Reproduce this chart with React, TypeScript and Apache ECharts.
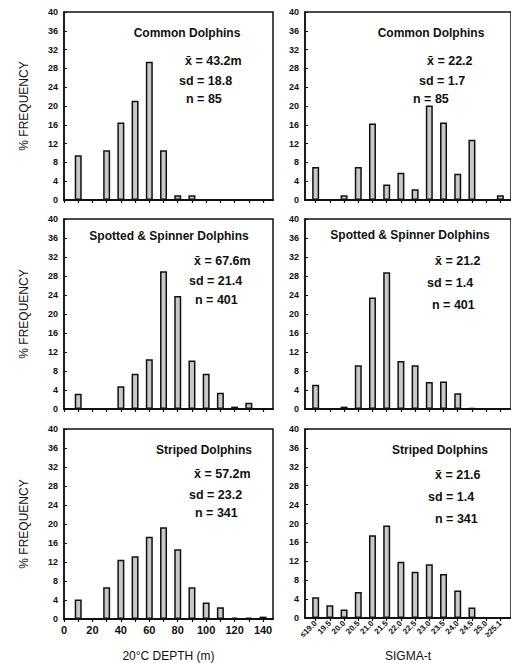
import React, { useEffect, useRef } from "react";
import * as echarts from "echarts";

// ---- data ----
const depthBins = [10, 20, 30, 40, 50, 60, 70, 80, 90, 100, 110, 120, 130, 140];
const depthTicks = [0, 10, 20, 30, 40, 50, 60, 70, 80, 90, 100, 110, 120, 130, 140];
const depthLabels = [0, 20, 40, 60, 80, 100, 120, 140];
const sigmaLabels = ["≤19.0", "19.5", "20.0", "20.5", "21.0", "21.5", "22.0", "22.5", "23.0", "23.5", "24.0", "24.5", "25.0", "≥25.1"];

const commonDepth = [9.5, 0, 10.6, 16.5, 21.1, 29.4, 10.6, 1.0, 1.0, 0, 0, 0, 0, 0];
const spottedDepth = [3.2, 0, 0, 4.8, 7.4, 10.5, 29.0, 23.8, 10.2, 7.4, 3.4, 0.5, 1.3, 0];
const stripedDepth = [4.1, 0, 6.7, 12.5, 13.2, 17.3, 19.3, 14.7, 6.7, 3.5, 2.5, 0.3, 0.3, 0.5];

const commonSigma = [7.0, 0, 1.0, 7.0, 16.3, 3.3, 5.8, 2.3, 20.1, 16.5, 5.6, 12.8, 0, 1.0];
const spottedSigma = [5.1, 0, 0.5, 9.2, 23.5, 28.8, 10.1, 9.2, 5.7, 5.8, 3.3, 0.2, 0, 0];
const stripedSigma = [4.4, 2.7, 1.8, 5.5, 17.5, 19.6, 11.9, 9.8, 11.4, 9.3, 5.8, 2.2, 0, 0];

const freqTicks = [0, 4, 8, 12, 16, 20, 24, 28, 32, 36, 40];

const speciesTitles = ["Common Dolphins", "Spotted & Spinner Dolphins", "Striped Dolphins"];
const depthStats = [
  ["x̄ = 43.2m", "sd = 18.8", "n = 85"],
  ["x̄ = 67.6m", "sd = 21.4", "n = 401"],
  ["x̄ = 57.2m", "sd = 23.2", "n = 341"],
];
const sigmaStats = [
  ["x̄ = 22.2", "sd = 1.7", "n = 85"],
  ["x̄ = 21.2", "sd = 1.4", "n = 401"],
  ["x̄ = 21.6", "sd = 1.4", "n = 341"],
];

const depthSeries = [commonDepth, spottedDepth, stripedDepth];
const sigmaSeries = [commonSigma, spottedSigma, stripedSigma];

const yTitle = "% FREQUENCY";
const depthTitle = "20°C DEPTH (m)";
const sigmaTitle = "SIGMA-t";

// ---- layout ----
const FONT = "'Liberation Sans', Arial, Helvetica, sans-serif";
const rowTop = [12, 219, 429];
const rowH = [188, 190, 190];
const leftX = 64;
const leftW = 209;
const rightX = 305;
const rightW = 208;

const leftText = [
  { tx: 187, ty: 33, sx: [185, 179, 186], sy: [61, 81, 99] },
  { tx: 169, ty: 236, sx: [194, 189, 195], sy: [261, 281, 300] },
  { tx: 204, ty: 450, sx: [194, 189, 195], sy: [474, 495, 513] },
];
const rightText = [
  { tx: 431, ty: 33, sx: [427, 419, 413], sy: [61, 81, 99] },
  { tx: 410, ty: 235, sx: [435, 427, 432], sy: [261, 283, 305] },
  { tx: 440, ty: 450, sx: [435, 428, 435], sy: [475, 497, 519] },
];

export default function App() {
  const ref = useRef<HTMLDivElement>(null);
  useEffect(() => {
    if (!ref.current) return;
    const chart = echarts.init(ref.current, undefined, { renderer: "svg" });

    const grid: any[] = [];
    const xAxis: any[] = [];
    const yAxis: any[] = [];
    const series: any[] = [];
    const graphic: any[] = [];

    const gridBase = {
      show: true,
      borderColor: "#111",
      borderWidth: 1.5,
      backgroundColor: "transparent",
      containLabel: false,
    };

    for (let r = 0; r < 3; r++) {
      const bottom = r === 2;
      grid.push({ ...gridBase, left: leftX, top: rowTop[r], width: leftW, height: rowH[r] });
      grid.push({ ...gridBase, left: rightX, top: rowTop[r], width: rightW, height: rowH[r] });

      const gl = r * 2;
      const gr = r * 2 + 1;

      xAxis.push({
        type: "value",
        gridIndex: gl,
        min: 0,
        max: 147,
        splitLine: { show: false },
        axisLine: { show: true, onZero: false, lineStyle: { color: "#111", width: 2 } },
        axisTick: { show: true, inside: false, length: 3, customValues: depthTicks, lineStyle: { color: "#111", width: 1.2 } },
        axisLabel: {
          show: bottom,
          customValues: depthLabels,
          color: "#111",
          fontFamily: FONT,
          fontWeight: "bold",
          fontSize: 11,
          margin: 5,
        },
        name: bottom ? depthTitle : "",
        nameLocation: "middle",
        nameGap: 31,
        nameTextStyle: { color: "#111", fontFamily: FONT, fontSize: 12 },
      });
      xAxis.push({
        type: "value",
        gridIndex: gr,
        min: -0.75,
        max: 13.75,
        splitLine: { show: false },
        axisLine: { show: true, onZero: false, lineStyle: { color: "#111", width: 2 } },
        axisTick: { show: true, inside: false, length: 3, customValues: sigmaLabels.map((_, i) => i), lineStyle: { color: "#111", width: 1.2 } },
        axisLabel: {
          show: bottom,
          customValues: sigmaLabels.map((_, i) => i),
          formatter: (v: number) => sigmaLabels[Math.round(v)] ?? "",
          rotate: 45,
          color: "#111",
          fontFamily: FONT,
          fontWeight: "bold",
          fontSize: 8,
          margin: 4,
        },
        name: bottom ? sigmaTitle : "",
        nameLocation: "middle",
        nameGap: 32,
        nameTextStyle: { color: "#111", fontFamily: FONT, fontSize: 12 },
      });

      const yBase = {
        type: "value",
        min: 0,
        max: 40,
        interval: 4,
        splitLine: { show: false },
        axisLine: { show: true, onZero: false, lineStyle: { color: "#111", width: 1.5 } },
        axisTick: { show: true, inside: true, length: 3, lineStyle: { color: "#111", width: 1 } },
        axisLabel: {
          color: "#111",
          fontFamily: FONT,
          fontWeight: "bold",
          fontSize: 9,
          margin: 6,
          customValues: freqTicks,
        },
      };
      yAxis.push({
        ...yBase,
        gridIndex: gl,
        name: yTitle,
        nameLocation: "middle",
        nameGap: 34,
        nameRotate: 90,
        nameTextStyle: { color: "#111", fontFamily: FONT, fontSize: 12 },
      });
      yAxis.push({ ...yBase, gridIndex: gr });

      const barStyle = {
        color: "#c8c8c8",
        borderColor: "#111",
        borderWidth: 1.5,
      };
      series.push({
        type: "bar",
        xAxisIndex: gl,
        yAxisIndex: gl,
        barWidth: 7,
        itemStyle: barStyle,
        data: depthSeries[r].map((v, i) => [depthBins[i], v > 0 ? v : null]),
      });
      series.push({
        type: "bar",
        xAxisIndex: gr,
        yAxisIndex: gr,
        barWidth: 7,
        itemStyle: barStyle,
        data: sigmaSeries[r].map((v, i) => [i, v > 0 ? v : null]),
      });

      const addTexts = (t: any, stats: string[]) => {
        graphic.push({
          type: "text",
          x: t.tx,
          y: t.ty,
          style: {
            text: speciesTitles[r],
            font: `bold 12px ${FONT}`,
            fill: "#111",
            textAlign: "center",
            textVerticalAlign: "middle",
          },
        });
        stats.forEach((s, k) => {
          graphic.push({
            type: "text",
            x: t.sx[k],
            y: t.sy[k],
            style: {
              text: s,
              font: `bold 12.5px ${FONT}`,
              fill: "#111",
              textAlign: "left",
              textVerticalAlign: "middle",
            },
          });
        });
      };
      addTexts(leftText[r], depthStats[r]);
      addTexts(rightText[r], sigmaStats[r]);
    }

    chart.setOption({
      animation: false,
      backgroundColor: "#fff",
      grid,
      xAxis,
      yAxis,
      series,
      graphic,
    });
    return () => chart.dispose();
  }, []);

  return (
    <div
      ref={ref}
      style={{ position: "fixed", left: 0, top: 0, width: 511, height: 663 }}
    />
  );
}
